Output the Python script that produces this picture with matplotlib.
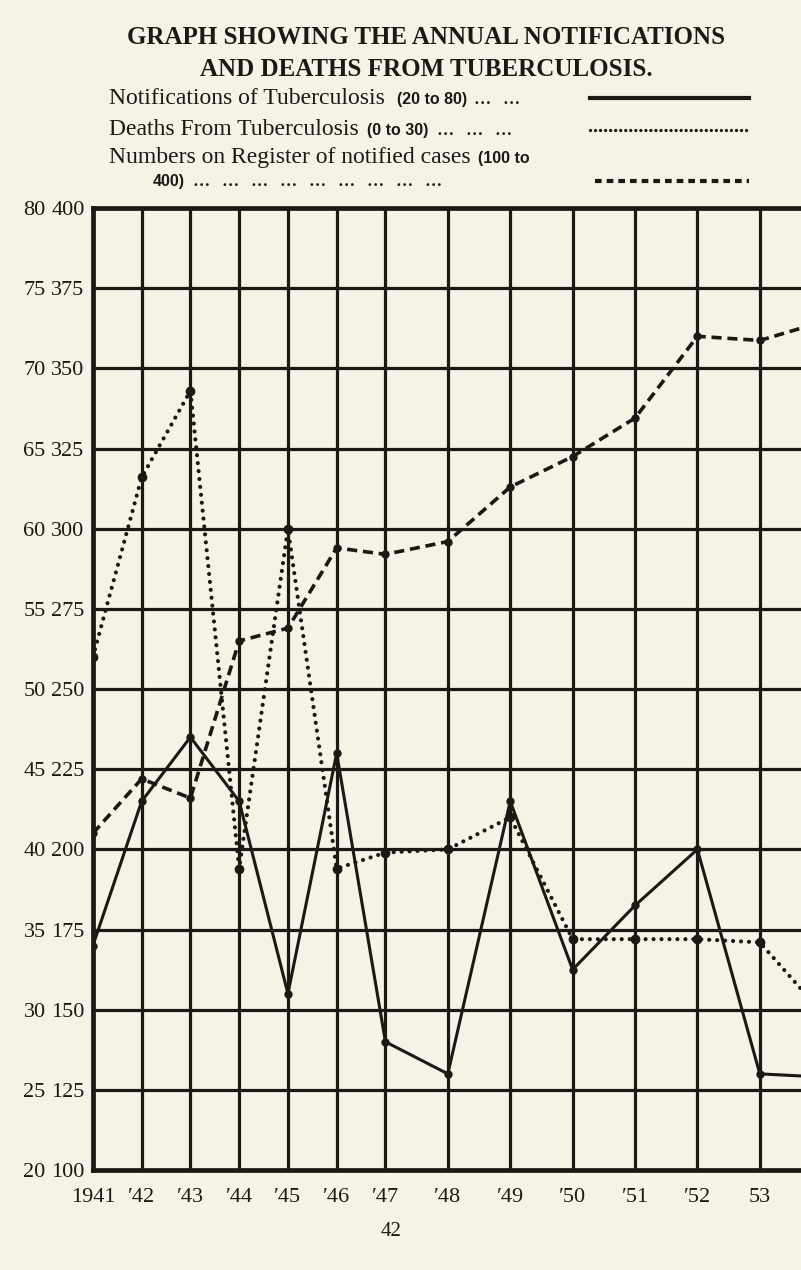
import numpy as np
import matplotlib
matplotlib.use('Agg')
import matplotlib.pyplot as plt
from matplotlib.lines import Line2D

# values (1954 only partly visible at the cut edge)
years = [1941, 1942, 1943, 1944, 1945, 1946, 1947, 1948, 1949, 1950, 1951, 1952, 1953, 1954]
notifications = [34, 43, 47, 43, 31, 46, 28, 26, 43, 32.5, 36.5, 40, 26, 25.8]      # scale 20 to 80
deaths = [16, 21.6, 24.3, 9.4, 20, 9.4, 9.9, 10, 11, 7.2, 7.2, 7.2, 7.1, 4.9]       # scale 0 to 30
register = [205, 222, 216, 265, 269, 294, 292, 296, 313, 322.5, 334.5, 360, 358.7, 364.5]  # 100 to 400
year_labels = ['1941', '\u203242', '\u203243', '\u203244', '\u203245', '\u203246', '\u203247',
               '\u203248', '\u203249', '\u203250', '\u203251', '\u203252', '53']

ink = '#1c1915'
paper = '#f7f2e6'

plt.rcParams['font.family'] = ['Liberation Serif', 'DejaVu Serif']

fig = plt.figure(figsize=(8.01, 12.70), dpi=100, facecolor=paper)
ax = fig.add_axes([0.116, 0.0787, 0.884, 0.7575])


# the hand-drawn columns after 1947 are wider than the earlier ones
def fwd(x):
    x = np.asarray(x, float)
    return np.where(x <= 1947, x - 1941, 6 + (x - 1947) * 1.28)


def inv(p):
    p = np.asarray(p, float)
    return np.where(p <= 6, p + 1941, 1947 + (p - 6) / 1.28)


ax.set_xscale('function', functions=(fwd, inv))
ax.set_xlim(1941, 1953.66)
ax.set_ylim(100, 400)
ax.set_xticks(years[:13])
ax.set_xticklabels(year_labels)
ax.set_yticks(range(100, 401, 25))
ax.set_facecolor('none')
ax.set_axisbelow(True)
ax.grid(True, color=ink, lw=2.3)
ax.tick_params(length=0, colors=ink)
ax.tick_params(axis='y', labelsize=16, pad=6)
ax.tick_params(axis='x', labelsize=16, pad=13)
for s in ['left', 'top', 'bottom']:
    ax.spines[s].set_linewidth(3.4)
    ax.spines[s].set_color(ink)
ax.spines['right'].set_visible(False)

ax_n = ax.twinx()
ax_n.set_ylim(20, 80)
ax_n.yaxis.tick_left()
ax_n.set_yticks(range(20, 81, 5))
ax_n.tick_params(length=0, labelsize=16, pad=34, colors=ink)
ax_d = ax.twinx()
ax_d.set_ylim(0, 30)
ax_d.set_yticks([])
for a in (ax_n, ax_d):
    for s in a.spines.values():
        s.set_visible(False)

ax.plot(years, register, color=ink, lw=2.6, linestyle=(0, (2.8, 1.6)),
        marker='o', ms=5, mfc=ink)
ax_n.plot(years, notifications, color=ink, lw=2.2, marker='o', ms=5)
ax_d.plot(years, deaths, color=ink, lw=3.0, linestyle=(0, (0.01, 1.9)),
          dash_capstyle='round', marker='o', ms=6)

# heading and key
fig.text(0.532, 1 - 37 / 1270, 'GRAPH SHOWING THE ANNUAL NOTIFICATIONS',
         ha='center', va='center', fontsize=18, weight='bold', color=ink)
fig.text(0.532, 1 - 70 / 1270, 'AND DEATHS FROM TUBERCULOSIS.',
         ha='center', va='center', fontsize=18, weight='bold', color=ink)


def key_line(x, ypx, pieces):
    # pieces (text, bold-sans?, gap in points) chained left to right on one baseline
    yb = 1 - ypx / 1270
    prev = None
    for txt, bold, gap in pieces:
        kw = dict(fontsize=11.5, family='Liberation Sans', weight='bold') if bold else dict(fontsize=17)
        if prev is None:
            prev = fig.text(x / 801, yb, txt, ha='left', va='baseline', color=ink, **kw)
        else:
            prev = ax.annotate(txt, xy=(1, yb), xycoords=(prev, 'figure fraction'),
                               xytext=(gap, 0), textcoords='offset points',
                               ha='left', va='baseline', color=ink, annotation_clip=False, **kw)


key_line(109, 104, [('Notifications of Tuberculosis', False, 0), ('(20 to 80)', True, 9),
                    ('...  ...', False, 5)])
key_line(109, 135, [('Deaths From Tuberculosis', False, 0), ('(0 to 30)', True, 6),
                    ('...  ...  ...', False, 6)])
key_line(109, 163, [('Numbers on Register of notified cases', False, 0), ('(100 to', True, 5)])
key_line(153, 186, [('400)', True, 0), ('...  ...  ...  ...  ...  ...  ...  ...  ...', False, 6)])

x0, x1 = 590 / 801, 749 / 801
fig.add_artist(Line2D([x0, x1], [1 - 98 / 1270] * 2, color=ink, lw=3, transform=fig.transFigure))
fig.add_artist(Line2D([x0, x1], [1 - 130 / 1270] * 2, color=ink, lw=2.4, linestyle=(0, (0.01, 1.5)),
                      dash_capstyle='round', transform=fig.transFigure))
fig.add_artist(Line2D([x0 + 5 / 801, x1], [1 - 181 / 1270] * 2, color=ink, lw=3,
                      linestyle=(0, (1.6, 1.2)), transform=fig.transFigure))

fig.text(391 / 801, 1 - 1232 / 1270, '42', ha='center', va='center', fontsize=15, color=ink)

fig.savefig('out.png', dpi=100, facecolor=paper)
